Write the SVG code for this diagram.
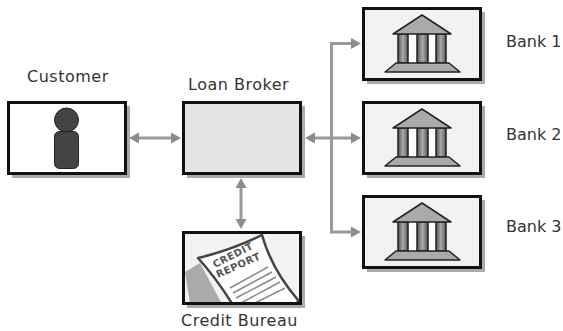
<svg xmlns="http://www.w3.org/2000/svg" width="563" height="331" viewBox="0 0 563 331">
<style>
text{font-family:"DejaVu Sans",sans-serif;font-size:16px;fill:#333;letter-spacing:.5px}
.bank{letter-spacing:0}
.shadow{fill:#aaa}
.box{stroke:#111;stroke-width:3;fill:none}
.white{fill:#fff}
.pale{fill:#f2f2f2}
.conn{fill:none;stroke:#999;stroke-width:3}
.head{fill:#8c8c8c}
.col{fill:url(#colGrad);stroke:#222;stroke-width:1.5}
.roof{fill:#aaa;stroke:#222;stroke-width:1.5;stroke-linejoin:round}
.stamp{font-size:10px;font-weight:bold;letter-spacing:.5px;fill:#555}
</style>
<defs>
<linearGradient id="colGrad"><stop offset="0" stop-color="#555"/><stop offset=".5" stop-color="#aaa"/><stop offset="1" stop-color="#555"/></linearGradient>
<clipPath id="cb"><rect x="185" y="234" width="114" height="68"/></clipPath>
<polygon id="arrow" class="head" points="0,0 -10,-5.500 -10,5.500"/>
<g id="temple">
<rect x="408" y="34" width="28" height="29" fill="#fff"/>
<rect class="col" x="398" y="34" width="10" height="29"/>
<rect class="col" x="417" y="34" width="11" height="29"/>
<rect class="col" x="436" y="34" width="10" height="29"/>
<polygon class="roof" points="422,15 451,34 393,34"/>
<polygon class="roof" points="396,63 449,63 460,72 385,72"/>
</g>
</defs>
<g id="connectors">
<path class="conn" d="M136 138H172"/>
<use href="#arrow" transform="translate(129,138) rotate(180)"/>
<use href="#arrow" transform="translate(181,138)"/>
<path class="conn" d="M241 187V221"/>
<use href="#arrow" transform="translate(241,178) rotate(-90)"/>
<use href="#arrow" transform="translate(241,229) rotate(90)"/>
<path class="conn" d="M312 138H352M352 43.500H331.500V232H352"/>
<use href="#arrow" transform="translate(305,138) rotate(180)"/>
<use href="#arrow" transform="translate(361,43.500)"/>
<use href="#arrow" transform="translate(361,138)"/>
<use href="#arrow" transform="translate(361,232)"/>
</g>
<g id="customer">
<text x="27" y="82">Customer</text>
<rect class="shadow" x="12" y="106" width="118" height="72"/>
<rect class="box white" x="8.500" y="102.500" width="117" height="71"/>
<rect x="54.500" y="131.500" width="24" height="37" rx="5" fill="#444" stroke="#222"/>
<circle cx="66.500" cy="120" r="12" fill="#444" stroke="#222"/>
</g>
<g id="loan-broker">
<text x="188" y="90">Loan Broker</text>
<rect class="shadow" x="187" y="106" width="118" height="72"/>
<rect class="box" x="183.500" y="102.500" width="117" height="71" style="fill:#e4e4e4"/>
</g>
<g id="credit-bureau">
<text x="181" y="326">Credit Bureau</text>
<rect class="shadow" x="187" y="236" width="118" height="72"/>
<rect class="pale" x="183.500" y="232.500" width="117" height="71"/>
<g clip-path="url(#cb)">
<path d="M185 272L200 263L222 304H190Z" fill="#aaa"/>
<path d="M198 258Q232 250 262 235Q272 270 298 300L296 310H236Q218 280 198 258Z" fill="#fff" stroke="#444" stroke-width="2.500" stroke-linejoin="round"/>
<text class="stamp" transform="translate(215 268) rotate(-27)">CREDIT</text>
<text class="stamp" transform="translate(218 278) rotate(-24)">REPORT</text>
<path d="M230 288L268 267M233 293L272 272M236 298L276 277M241 303L280 282M255 303L285 288" fill="none" stroke="#888" stroke-width="1.500"/>
</g>
<rect class="box" x="183.500" y="232.500" width="117" height="71"/>
</g>
<g id="bank-1">
<text class="bank" x="506" y="47">Bank 1</text>
<rect class="shadow" x="367" y="12" width="118" height="72"/>
<rect class="box pale" x="363.500" y="8.500" width="117" height="71" style="fill:#f2f2f2"/>
<use href="#temple"/>
</g>
<g id="bank-2">
<text class="bank" x="506" y="140">Bank 2</text>
<rect class="shadow" x="367" y="106" width="118" height="72"/>
<rect class="box" x="363.500" y="102.500" width="117" height="71" style="fill:#f2f2f2"/>
<use href="#temple" y="94"/>
</g>
<g id="bank-3">
<text class="bank" x="506" y="232">Bank 3</text>
<rect class="shadow" x="367" y="200" width="118" height="72"/>
<rect class="box" x="363.500" y="196.500" width="117" height="71" style="fill:#f2f2f2"/>
<use href="#temple" y="188"/>
</g>
</svg>
